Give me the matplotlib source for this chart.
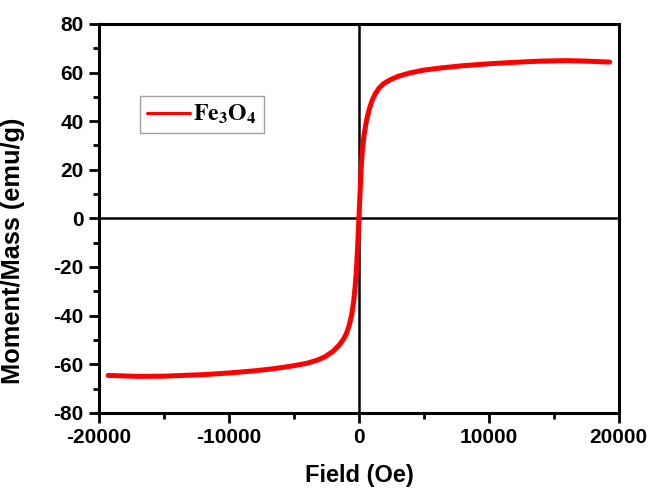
import matplotlib
matplotlib.use("Agg")
import matplotlib.pyplot as plt

# courbe d'aimantation M(H)
champ = [-19300, -17000, -15000, -12000, -10000, -8000, -6500, -5000, -4000,
         -3200, -2600, -2000, -1500, -1200, -970, -750, -550, -400, -280,
         -180, -90, 0, 90, 180, 270, 400, 590, 800, 1000, 1250, 1550, 1900,
         2400, 3000, 3900, 5000, 6500, 8000, 10000, 12000, 14000, 16000,
         17500, 19300]
moment = [-64.6, -65.0, -64.9, -64.3, -63.6, -62.7, -61.8, -60.6, -59.6,
          -58.3, -56.9, -54.7, -52.0, -49.8, -47.5, -44.0, -39.5, -34.0, -27.5,
          -20.0, -10.5, 0.0, 11.0, 21.0, 28.5, 34.5, 40.5, 45.0, 48.3, 51.2,
          53.6, 55.4, 57.0, 58.4, 59.8, 61.0, 62.0, 62.8, 63.6, 64.2, 64.7,
          64.9, 64.7, 64.3]

xTicks = [-20000, -10000, 0, 10000, 20000]
yTicks = [-80, -60, -40, -20, 0, 20, 40, 60, 80]

plt.rcParams["font.family"] = ["Liberation Sans", "DejaVu Sans"]
plt.rcParams["font.weight"] = "bold"
plt.rcParams["axes.unicode_minus"] = False
plt.rcParams["mathtext.fontset"] = "stix"

figure = plt.figure(figsize=(6.52, 4.88), dpi=100)
axe = figure.add_axes([0.152, 0.154, 0.797, 0.797])

axe.axhline(0, color="black", lw=1.8, zorder=1)
axe.axvline(0, color="black", lw=1.8, zorder=1)
axe.plot(champ, moment, color="#ff0000", lw=3.6, solid_capstyle="round",
         label=r"$\mathbf{Fe_3O_4}$", zorder=3)

axe.set_xlim(-20000, 20000)
axe.set_ylim(-80, 80)
axe.set_xticks(xTicks)
axe.set_yticks(yTicks)
axe.set_xticks(range(-15000, 20000, 10000), minor=True)
axe.set_yticks(range(-70, 80, 20), minor=True)

for spine in axe.spines.values():
    spine.set_linewidth(2.2)
axe.tick_params(which="major", direction="out", length=7, width=2,
                labelsize=15, pad=4)
axe.tick_params(which="minor", direction="out", length=4, width=2)
for lab in axe.get_xticklabels() + axe.get_yticklabels():
    lab.set_fontweight("bold")

axe.set_xlabel("Field (Oe)", fontsize=17, fontweight="bold", labelpad=12)
axe.set_ylabel("Moment/Mass (emu/g)", fontsize=18.3, fontweight="bold")
axe.yaxis.set_label_coords(-0.142, 0.416)

leg = axe.legend(loc="upper left", bbox_to_anchor=(0.079, 0.815), borderaxespad=0,
                 fancybox=False, framealpha=1, edgecolor="#a0a0a0",
                 prop={"size": 17}, handlelength=1.8, handletextpad=0.15,
                 borderpad=0.3)
leg.get_frame().set_linewidth(1.0)
for ligne in leg.get_lines():
    ligne.set_linewidth(2.2)

plt.savefig("out.png", dpi=100)
